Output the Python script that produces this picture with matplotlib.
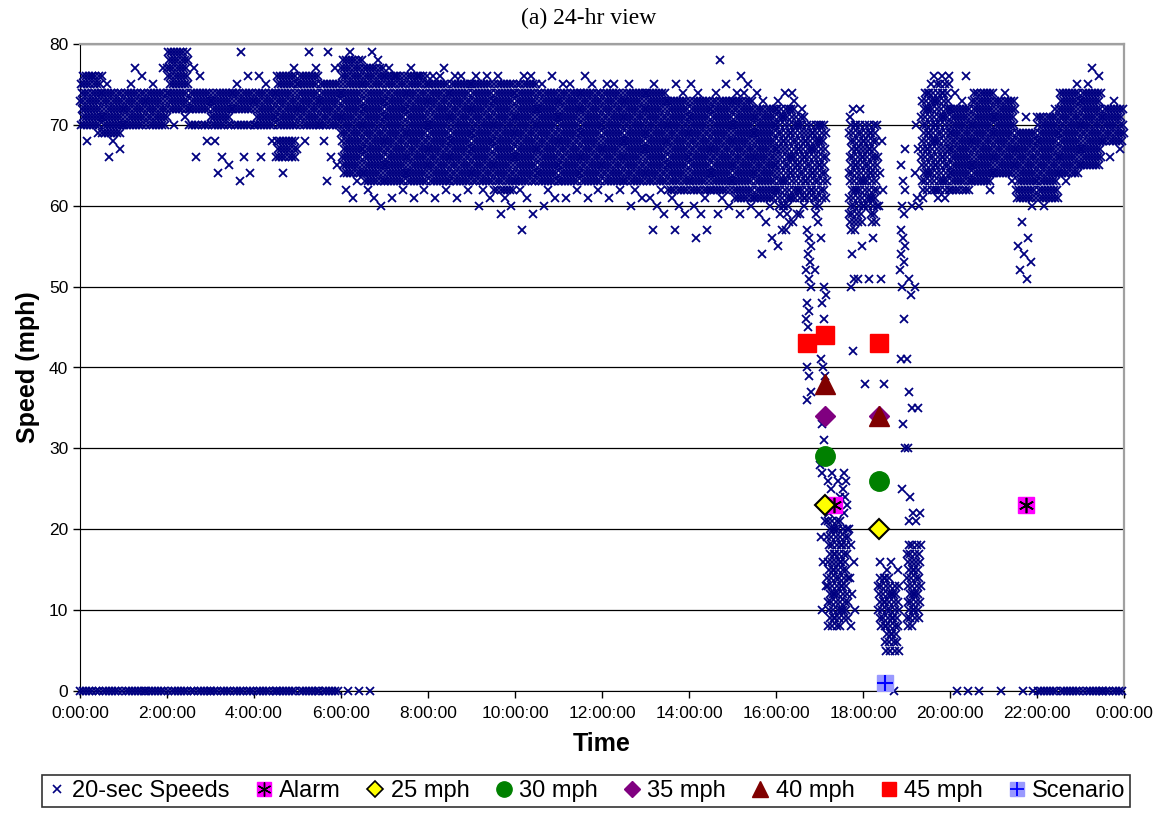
import numpy as np
import matplotlib
matplotlib.use("Agg")
import matplotlib.pyplot as plt
from matplotlib.lines import Line2D

plt.rcParams['font.family'] = ['Liberation Sans', 'DejaVu Sans']

# 20-sec detector speeds grouped by time bin (bin start, hh:mm).
# bin_core holds the speeds that fill a bin, bin_stray the isolated readings.
bin_start = ["0:00", "0:30", "1:00", "1:30", "2:00", "2:30", "3:00", "3:30",
             "4:00", "4:30", "5:00", "5:30", "6:00", "6:30", "7:00", "7:30",
             "8:00", "8:30", "9:00", "9:30", "10:00", "10:30", "11:00", "11:30",
             "12:00", "12:30", "13:00", "13:30", "14:00", "14:30", "15:00", "15:30",
             "16:00", "16:10", "16:20", "16:30", "16:40", "16:50",
             "17:00", "17:10", "17:20", "17:30", "17:40", "17:50",
             "18:00", "18:10", "18:20", "18:30", "18:40", "18:50",
             "19:00", "19:10", "19:20", "19:30", "19:40", "19:50",
             "20:00", "20:30", "21:00", "21:30", "22:00", "22:30", "23:00", "23:30"]

bin_core = [
    [0, 70, 71, 72, 73, 74, 75, 76],
    [0, 69, 70, 71, 72, 73, 74],
    [0, 70, 71, 72, 73, 74],
    [0, 70, 71, 72, 73, 74],
    [0, 72, 73, 74, 75, 76, 77, 78, 79],
    [0, 70, 72, 73, 74],
    [0, 70, 71, 72, 73, 74],
    [0, 70, 72, 73, 74],
    [0, 70, 71, 72, 73, 74],
    [0, 66, 67, 68, 70, 71, 72, 73, 74, 75, 76],
    [0, 70, 71, 72, 73, 74, 75, 76],
    [0, 70, 71, 72, 73, 74, 75],
    [64, 65, 66, 67, 68, 69, 70, 71, 72, 73, 74, 75, 76, 77, 78],
    [63, 64, 65, 66, 67, 68, 69, 70, 71, 72, 73, 74, 75, 76, 77],
    [63, 64, 65, 66, 67, 68, 69, 70, 71, 72, 73, 74, 75, 76],
    [63, 64, 65, 66, 67, 68, 69, 70, 71, 72, 73, 74, 75, 76],
    [63, 64, 65, 66, 67, 68, 69, 70, 71, 72, 73, 74, 75],
    [63, 64, 65, 66, 67, 68, 69, 70, 71, 72, 73, 74, 75],
    [63, 64, 65, 66, 67, 68, 69, 70, 71, 72, 73, 74, 75],
    [62, 63, 64, 65, 66, 67, 68, 69, 70, 71, 72, 73, 74, 75],
    [63, 64, 65, 66, 67, 68, 69, 70, 71, 72, 73, 74, 75],
    [63, 64, 65, 66, 67, 68, 69, 70, 71, 72, 73, 74],
    [63, 64, 65, 66, 67, 68, 69, 70, 71, 72, 73, 74],
    [63, 64, 65, 66, 67, 68, 69, 70, 71, 72, 73, 74],
    [63, 64, 65, 66, 67, 68, 69, 70, 71, 72, 73, 74],
    [63, 64, 65, 66, 67, 68, 69, 70, 71, 72, 73, 74],
    [63, 64, 65, 66, 67, 68, 69, 70, 71, 72, 73, 74],
    [62, 63, 64, 65, 66, 67, 68, 69, 70, 71, 72, 73],
    [62, 63, 64, 65, 66, 67, 68, 69, 70, 71, 72, 73],
    [62, 63, 64, 65, 66, 67, 68, 69, 70, 71, 72, 73],
    [61, 62, 63, 64, 65, 66, 67, 68, 69, 70, 71, 72, 73],
    [61, 62, 63, 64, 65, 66, 67, 68, 69, 70, 71, 72],
    [60, 61, 62, 63, 64, 65, 66, 67, 68, 69, 70, 71, 72],
    [60, 61, 62, 63, 64, 65, 66, 67, 68, 69, 70, 71, 72],
    [61, 62, 63, 64, 65, 66, 67, 68, 69, 70, 71, 72],
    [61, 62, 63, 64, 65, 66, 67, 68, 69, 70, 71],
    [61, 62, 63, 64, 65, 66, 67, 68, 69, 70],
    [60, 61, 62, 63, 64, 65, 66, 67, 68, 69, 70],
    [61, 62, 63, 64, 65, 66, 67, 68, 69, 70],
    [8, 9, 10, 11, 12, 13, 14, 15, 16, 17, 18, 19, 20, 21],
    [8, 9, 10, 11, 12, 13, 14, 15, 16, 17, 18, 19, 20, 21],
    [9, 10, 11, 12, 13, 14, 15, 16, 17, 18, 19, 20],
    [57, 58, 59, 60, 61, 62, 63, 64, 65, 66, 67, 68, 69, 70],
    [58, 59, 60, 61, 62, 63, 64, 65, 66, 67, 68, 69, 70],
    [60, 61, 62, 63, 64, 65, 66, 67, 68, 69, 70],
    [58, 59, 60, 61, 62, 63, 64, 65, 66, 67, 68, 69, 70],
    [8, 9, 10, 11, 12, 13, 14],
    [5, 6, 7, 8, 9, 10, 11, 12, 13, 14],
    [5, 6, 7, 8, 9, 10, 11, 12, 13],
    [],
    [8, 9, 10, 11, 12, 13, 14, 15, 16, 17, 18],
    [9, 10, 11, 12, 13, 14, 15, 16, 17, 18],
    [62, 63, 64, 65, 66, 67, 68, 69, 70, 71, 72, 73, 74],
    [62, 63, 64, 65, 66, 67, 68, 69, 70, 71, 72, 73, 74],
    [62, 63, 64, 65, 66, 67, 68, 69, 70, 71, 72, 73, 74, 75],
    [62, 63, 64, 65, 66, 67, 68, 69, 70, 71, 72, 73, 74, 75],
    [62, 63, 64, 65, 66, 67, 68, 69, 70, 71, 72],
    [63, 64, 65, 66, 67, 68, 69, 70, 71, 72, 73, 74],
    [64, 65, 66, 67, 68, 69, 70, 71, 72, 73],
    [61, 62, 63, 64, 65, 66, 67, 68, 69],
    [0, 61, 62, 63, 64, 65, 66, 67, 68, 69, 70, 71],
    [0, 64, 65, 66, 67, 68, 69, 70, 71, 72, 73, 74],
    [0, 65, 66, 67, 68, 69, 70, 71, 72, 73, 74],
    [0, 68, 69, 70, 71, 72],
]

bin_stray = [
    [68, 69, 76], [66, 67, 68, 75], [75, 76, 77], [75, 77],
    [70, 71], [66, 68, 76, 77], [64, 65, 66, 68], [63, 64, 66, 75, 76, 79],
    [66, 68, 75, 76], [64, 77], [68, 77, 79], [63, 65, 66, 68, 77, 79],
    [0, 0, 61, 62, 63, 79], [0, 60, 61, 62, 78, 79],
    [61, 62, 76, 77], [61, 62, 76, 77],
    [61, 62, 76, 76, 77], [61, 62, 76, 76],
    [60, 61, 62, 76, 76], [59, 60, 61, 76],
    [57, 59, 61, 62, 76, 76], [60, 61, 62, 75, 76],
    [61, 62, 75, 75], [61, 62, 75, 76],
    [61, 62, 75, 75], [60, 61, 62, 75],
    [57, 59, 60, 61, 62, 75], [57, 59, 60, 61, 74, 75],
    [56, 57, 59, 60, 61, 74, 75], [59, 60, 61, 74, 75, 78],
    [59, 60, 74, 74, 75, 76], [54, 56, 58, 59, 60, 73, 74],
    [55, 57, 59, 73], [57, 58, 59, 74], [58, 59, 73, 74], [59, 60, 72],
    [36, 37, 39, 40, 43, 45, 46, 47, 48, 50, 51, 52, 53, 54, 55, 56, 57],
    [52, 58, 59],
    [10, 13, 16, 19, 21, 27, 28, 31, 33, 39, 40, 41, 46, 48, 49, 50, 56],
    [22, 23, 25, 26, 27], [23, 24, 26], [22, 23, 24, 25, 26, 27],
    [8, 10, 12, 14, 16, 18, 20, 42, 50, 51, 54, 71, 72],
    [51, 55, 72], [38, 51], [56],
    [16, 38, 51, 60, 62, 64, 66, 68], [15, 16], [0, 15],
    [25, 30, 33, 41, 46, 50, 52, 53, 54, 55, 56, 57, 59, 60, 62, 63, 65, 67],
    [21, 22, 24, 30, 35, 37, 41, 49, 51, 60],
    [21, 22, 35, 50, 60, 61, 64, 67, 70],
    [61], [75, 76], [61, 76], [61, 76],
    [0, 0, 73, 74, 76], [0, 62], [0, 63, 74],
    [0, 0, 51, 52, 53, 54, 55, 56, 58, 60, 71],
    [60, 72], [63, 75], [75, 76, 77], [66, 67, 73],
]

# incident-detection markers: time (h) and speed (mph)
alarm_t, alarm_v = [17.33, 21.74], [23, 23]
mph25_t, mph25_v = [17.12, 18.36], [23, 20]
mph30_t, mph30_v = [17.12, 18.36], [29, 26]
mph35_t, mph35_v = [17.12, 18.36], [34, 34]
mph40_t, mph40_v = [17.12, 18.36], [38, 34]
mph45_t, mph45_v = [16.72, 17.12, 18.36], [43, 44, 43]
scen_t, scen_v = [18.5], [1]

tick_hours = list(range(0, 25, 2))
tick_labels = [f"{h % 24}:00:00" for h in tick_hours]


def to_hours(s):
    h, m = s.split(":")
    return int(h) + int(m) / 60.0


starts = [to_hours(s) for s in bin_start]
ends = starts[1:] + [24.0]

# spread each bin's readings over its time span; rows are staggered so the
# cloud doesn't line up into columns
ts, vs = [], []
for i, (t0, t1, core, stray) in enumerate(zip(starts, ends, bin_core, bin_stray)):
    w = t1 - t0
    reps = max(2, int(round(w * 14)))
    for v in core:
        phase = (v * 0.618 + i * 0.37) % 1.0
        for j in range(reps):
            ts.append(t0 + w * (j + phase) / reps)
            vs.append(v)
    for k, v in enumerate(stray):
        ts.append(t0 + w * (0.1 + 0.8 * ((k * 0.618 + 0.3) % 1.0)))
        vs.append(v)

fig = plt.figure(figsize=(11.59, 8.13), dpi=100)
ax = fig.add_axes([80 / 1159, 1 - 691 / 813, 1044 / 1159, 647 / 813])

ax.plot(ts, vs, ls='none', marker='x', color='#000080', ms=6, mew=1.3,
        clip_on=False, zorder=3)

ax.plot(alarm_t, alarm_v, ls='none', marker='s', color='#ff00ff', ms=11, zorder=4)
ax.plot(alarm_t, alarm_v, ls='none', marker=(6, 2, 0), color='black', ms=11,
        mew=1.2, zorder=4)
ax.plot(mph25_t, mph25_v, ls='none', marker='D', mfc='#ffff00', mec='black',
        mew=1.5, ms=10, zorder=5)
ax.plot(mph30_t, mph30_v, ls='none', marker='o', color='#008000', ms=14, zorder=5)
ax.plot(mph35_t, mph35_v, ls='none', marker='D', color='#800080', ms=10, zorder=5)
ax.plot(mph40_t, mph40_v, ls='none', marker='^', color='#800000', ms=14, zorder=6)
ax.plot(mph45_t, mph45_v, ls='none', marker='s', color='#ff0000', ms=13, zorder=6)
ax.plot(scen_t, scen_v, ls='none', marker='s', color='#9999ff', ms=11, zorder=6)
ax.plot(scen_t, scen_v, ls='none', marker='+', color='#0000ff', ms=11, mew=1.5,
        zorder=7)

ax.set_xlim(0, 24)
ax.set_ylim(0, 80)
ax.set_xticks(tick_hours)
ax.set_xticklabels(tick_labels)
ax.set_yticks(range(0, 81, 10))
ax.yaxis.grid(True, color='black', lw=0.9)
ax.set_axisbelow(True)
ax.tick_params(axis='both', labelsize=12.5, length=5, direction='out', width=1)
ax.tick_params(axis='x', pad=6)
for side in ('top', 'right'):
    ax.spines[side].set_color('#a0a0a0')
    ax.spines[side].set_linewidth(1.6)
for side in ('left', 'bottom'):
    ax.spines[side].set_color('black')

ax.set_xlabel('Time', fontsize=18, fontweight='bold', labelpad=8)
ax.set_ylabel('Speed (mph)', fontsize=18, fontweight='bold', labelpad=6)
fig.text(589 / 1159, 1 - 18 / 813, '(a) 24-hr view', ha='center', va='center',
         fontsize=17, family=['Liberation Serif', 'DejaVu Serif'])

handles = [
    Line2D([], [], ls='none', marker='x', color='#000080', ms=6, mew=1.2),
    (Line2D([], [], ls='none', marker='s', color='#ff00ff', ms=10),
     Line2D([], [], ls='none', marker=(6, 2, 0), color='black', ms=10, mew=1)),
    Line2D([], [], ls='none', marker='D', mfc='#ffff00', mec='black', mew=1.2, ms=8),
    Line2D([], [], ls='none', marker='o', color='#008000', ms=11),
    Line2D([], [], ls='none', marker='D', color='#800080', ms=8),
    Line2D([], [], ls='none', marker='^', color='#800000', ms=11),
    Line2D([], [], ls='none', marker='s', color='#ff0000', ms=10),
    (Line2D([], [], ls='none', marker='s', color='#9999ff', ms=10),
     Line2D([], [], ls='none', marker='+', color='#0000ff', ms=10, mew=1.3)),
]
labels = ['20-sec Speeds', 'Alarm', '25 mph', '30 mph', '35 mph', '40 mph',
          '45 mph', 'Scenario']
leg = fig.legend(handles, labels, loc='center', bbox_to_anchor=(586 / 1159, 1 - 791 / 813),
                 ncol=8, frameon=True, fancybox=False, edgecolor='black',
                 fontsize=17, handlelength=0.9, handletextpad=0.2,
                 columnspacing=1.0, borderpad=0.2, borderaxespad=0)
leg.get_frame().set_linewidth(1.2)

fig.savefig('out.png', dpi=100)
